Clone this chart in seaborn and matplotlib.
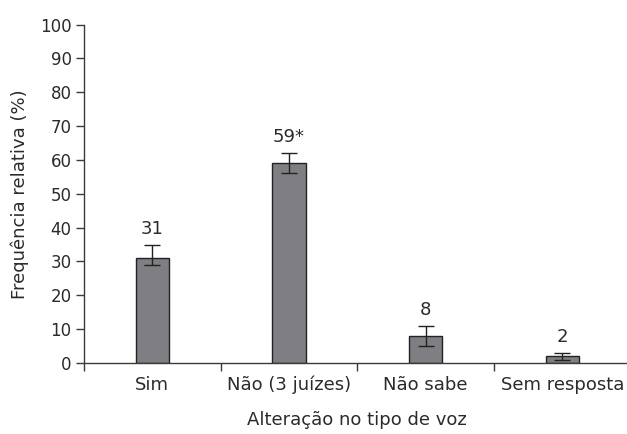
import matplotlib
matplotlib.use("Agg")
import matplotlib.pyplot as plt
import seaborn as sns
import numpy as np
import pandas as pd

categorias = ["Sim", "Não (3 juízes)", "Não sabe", "Sem resposta"]
frequencias = [31, 59, 8, 2]
rotulos = ["31", "59*", "8", "2"]
erro_inferior = [2, 3, 3, 1]
erro_superior = [4, 3, 3, 1]

sns.set_theme(style="white")
plt.rcParams["font.family"] = ["DejaVu Sans"]
texto = "#2b2b2b"
eixo = "#3a3a3a"

df = pd.DataFrame({"categoria": categorias, "freq": frequencias})

fig = plt.figure(figsize=(6.27, 4.34), dpi=100)
ax = fig.add_axes([84 / 627, 1 - 363 / 434, 546.7 / 627, (363 - 24.5) / 434])

sns.barplot(data=df, x="categoria", y="freq", color="#7f7f83", width=0.245,
            edgecolor="#222222", linewidth=1.0, saturation=1, errorbar=None, ax=ax)

x = np.arange(len(categorias))
ax.errorbar(x, frequencias, yerr=[erro_inferior, erro_superior], fmt="none",
            ecolor="#222222", elinewidth=1.0, capsize=6, capthick=1.0)

for xi, v, hi, rot in zip(x, frequencias, erro_superior, rotulos):
    ax.annotate(rot, (xi, v + hi), xytext=(0, 5), textcoords="offset points",
                ha="center", va="bottom", fontsize=13, color=texto)

ax.set_xlim(-0.5, len(categorias) - 0.5)
ax.set_ylim(0, 100)
ax.set_yticks(np.arange(0, 101, 10))
ax.set_xticks(np.arange(-0.5, len(categorias) - 0.5, 1.0))
ax.set_xticklabels([])
ax.set_xticks(x, minor=True)
ax.set_xticklabels(categorias, minor=True, fontsize=13, color=texto)
ax.tick_params(axis="x", which="major", direction="out", length=6, width=1, color=eixo, bottom=True)
ax.tick_params(axis="x", which="minor", length=0, pad=9)
ax.tick_params(axis="y", direction="out", length=6, width=1, color=eixo, left=True,
               labelsize=12, labelcolor=texto, pad=3)

for lado in ["top", "right"]:
    ax.spines[lado].set_visible(False)
for lado in ["left", "bottom"]:
    ax.spines[lado].set_color(eixo)
    ax.spines[lado].set_linewidth(1.0)

ax.set_xlabel("Alteração no tipo de voz", fontsize=13, color=texto, labelpad=12)
ax.set_ylabel("Frequência relativa (%)", fontsize=13, color=texto, labelpad=8)

fig.savefig("out.png", dpi=100)
